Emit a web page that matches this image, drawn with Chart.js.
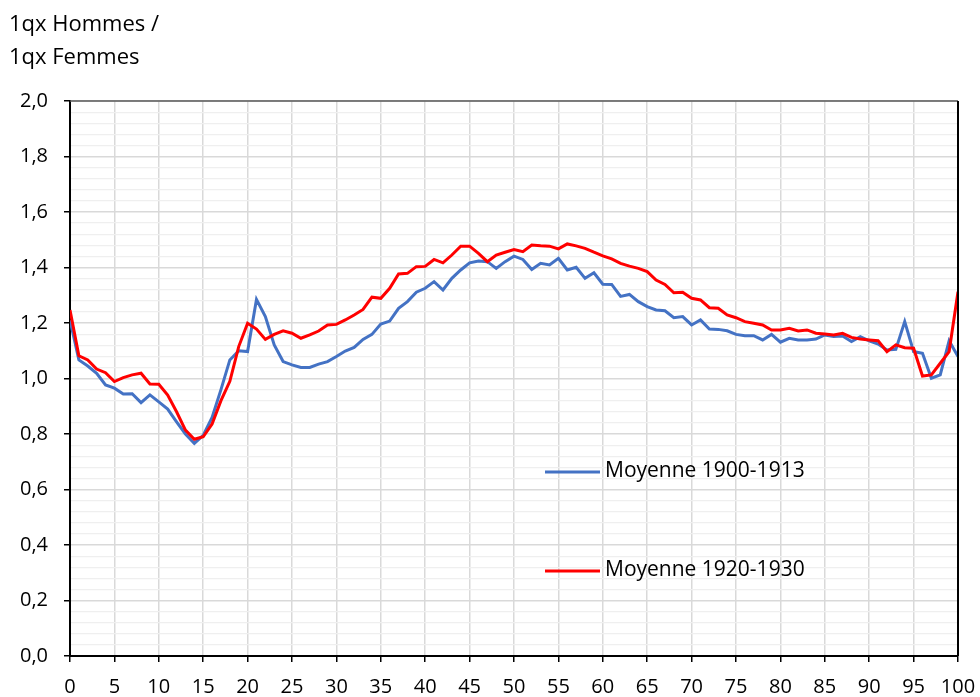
<!DOCTYPE html>
<html>
<head>
<meta charset="utf-8">
<script src="https://cdn.jsdelivr.net/npm/chart.js@4/dist/chart.umd.min.js"></script>
<style>
  html, body { margin: 0; padding: 0; background: #fff; }
  #wrap { width: 980px; height: 697px; }
</style>
</head>
<body>
<div id="wrap"><canvas id="ratioChart" width="980" height="697"></canvas></div>
<script>
"use strict";

const axisTitle = ["1qx Hommes /", "1qx Femmes"];
const seriesLabels = ["Moyenne 1900-1913", "Moyenne 1920-1930"];

const ages = [];
for (let a = 0; a <= 100; a++) ages.push(a);

// ratio 1qx hommes / 1qx femmes, moyenne 1900-1913
const moyenne1900 = [
  1.21, 1.067, 1.045, 1.019, 0.977, 0.965, 0.944, 0.945, 0.913, 0.941,
  0.916, 0.89, 0.844, 0.80, 0.766, 0.795, 0.86, 0.96, 1.067, 1.10,
  1.097, 1.285, 1.223, 1.121, 1.061, 1.049, 1.04, 1.04, 1.052, 1.061,
  1.079, 1.099, 1.112, 1.141, 1.159, 1.196, 1.207, 1.253, 1.277, 1.311,
  1.325, 1.349, 1.319, 1.361, 1.391, 1.417, 1.423, 1.421, 1.397, 1.421,
  1.441, 1.429, 1.393, 1.415, 1.409, 1.433, 1.391, 1.401, 1.361, 1.381,
  1.34, 1.339, 1.296, 1.303, 1.277, 1.259, 1.247, 1.244, 1.219, 1.223,
  1.193, 1.211, 1.178, 1.177, 1.172, 1.159, 1.154, 1.154, 1.139, 1.159,
  1.131, 1.145, 1.139, 1.139, 1.142, 1.157, 1.151, 1.153, 1.133, 1.151,
  1.136, 1.124, 1.103, 1.105, 1.205, 1.097, 1.091, 1.001, 1.013, 1.136,
  1.079
];

// ratio 1qx hommes / 1qx femmes, moyenne 1920-1930
const moyenne1920 = [
  1.247, 1.082, 1.067, 1.034, 1.021, 0.989, 1.003, 1.013, 1.019, 0.98,
  0.979, 0.94, 0.88, 0.814, 0.781, 0.79, 0.836, 0.92, 0.99, 1.115,
  1.199, 1.178, 1.141, 1.159, 1.172, 1.163, 1.145, 1.157, 1.171, 1.193,
  1.195, 1.211, 1.229, 1.249, 1.293, 1.289, 1.325, 1.377, 1.379, 1.403,
  1.404, 1.429, 1.417, 1.445, 1.477, 1.477, 1.451, 1.421, 1.445, 1.455,
  1.465, 1.457, 1.481, 1.478, 1.477, 1.467, 1.485, 1.478, 1.469, 1.455,
  1.442, 1.431, 1.415, 1.405, 1.397, 1.385, 1.355, 1.339, 1.309, 1.311,
  1.289, 1.283, 1.255, 1.253, 1.229, 1.219, 1.205, 1.199, 1.193, 1.175,
  1.175, 1.181, 1.171, 1.175, 1.163, 1.16, 1.157, 1.163, 1.148, 1.142,
  1.139, 1.136, 1.097, 1.121, 1.111, 1.109, 1.009, 1.013, 1.055, 1.097,
  1.313
];

const colors = ["#4472C4", "#FF0000"];
const fontFamily = "'Open Sans', 'DejaVu Sans', sans-serif";

function isMajor(v) {
  return Math.abs(v * 5 - Math.round(v * 5)) < 1e-6;
}

// axis title, plot frame and in-plot legend
const decorPlugin = {
  id: "decor",
  afterDraw(chart) {
    const ctx = chart.ctx;
    const area = chart.chartArea;
    ctx.save();

    ctx.fillStyle = "#000";
    ctx.font = "22px " + fontFamily;
    ctx.textBaseline = "middle";
    ctx.textAlign = "left";
    ctx.fillText(axisTitle[0], 9, 25);
    ctx.fillText(axisTitle[1], 9, 58);

    ctx.lineWidth = 1.5;
    ctx.strokeStyle = "#595959";
    ctx.beginPath();
    ctx.moveTo(area.left, area.top);
    ctx.lineTo(area.right, area.top);
    ctx.stroke();

    ctx.lineWidth = 2;
    ctx.strokeStyle = "#000";
    ctx.beginPath();
    ctx.moveTo(area.right, area.top);
    ctx.lineTo(area.right, area.bottom);
    ctx.stroke();

    const legendY = [472, 571];
    chart.data.datasets.forEach(function (ds, i) {
      ctx.strokeStyle = ds.borderColor;
      ctx.lineWidth = 3;
      ctx.beginPath();
      ctx.moveTo(545, legendY[i]);
      ctx.lineTo(600, legendY[i]);
      ctx.stroke();
      ctx.fillStyle = "#000";
      ctx.font = "21px " + fontFamily;
      ctx.fillText(ds.label, 605, legendY[i] - 1);
    });

    ctx.restore();
  }
};

const ctx = document.getElementById("ratioChart").getContext("2d");

const ratioChart = new Chart(ctx, {
  type: "line",
  data: {
    datasets: [
      {
        label: seriesLabels[0],
        data: ages.map((a, i) => ({ x: a, y: moyenne1900[i] })),
        borderColor: colors[0],
        borderWidth: 3,
        pointRadius: 0,
        tension: 0,
        order: 2
      },
      {
        label: seriesLabels[1],
        data: ages.map((a, i) => ({ x: a, y: moyenne1920[i] })),
        borderColor: colors[1],
        borderWidth: 3,
        pointRadius: 0,
        tension: 0,
        order: 1
      }
    ]
  },
  options: {
    responsive: false,
    animation: false,
    devicePixelRatio: 1,
    layout: {
      padding: { top: 101, left: 10, right: 22, bottom: 0 }
    },
    plugins: {
      legend: { display: false },
      title: { display: false },
      tooltip: { enabled: false }
    },
    scales: {
      x: {
        type: "linear",
        min: 0,
        max: 100,
        afterFit: function (scale) {
          scale.height = 41;
          scale.paddingLeft = 0;
          scale.paddingRight = 0;
        },
        ticks: {
          stepSize: 5,
          padding: 13,
          color: "#000",
          maxRotation: 0,
          font: { family: fontFamily, size: 20 }
        },
        grid: {
          color: "#d9d9d9",
          lineWidth: 1.5,
          tickColor: "#000",
          tickLength: 6
        },
        border: { color: "#000", width: 2 }
      },
      y: {
        min: 0,
        max: 2,
        afterFit: function (scale) { scale.width = 60; },
        afterBuildTicks: function (scale) {
          const t = [];
          for (let k = 0; k <= 50; k++) t.push({ value: Math.round(k * 4) / 100 });
          scale.ticks = t;
        },
        ticks: {
          autoSkip: false,
          padding: 16,
          color: "#000",
          font: { family: fontFamily, size: 20 },
          callback: function (v) {
            return isMajor(v) ? v.toFixed(1).replace(".", ",") : "";
          }
        },
        grid: {
          color: function (c) {
            return isMajor(c.tick.value) ? "#d9d9d9" : "#efefef";
          },
          lineWidth: function (c) {
            return isMajor(c.tick.value) ? 1.5 : 1.2;
          },
          tickColor: function (c) {
            return isMajor(c.tick.value) ? "#000" : "rgba(0,0,0,0)";
          },
          tickLength: 6
        },
        border: { color: "#000", width: 2 }
      }
    }
  },
  plugins: [decorPlugin]
});
</script>
</body>
</html>
